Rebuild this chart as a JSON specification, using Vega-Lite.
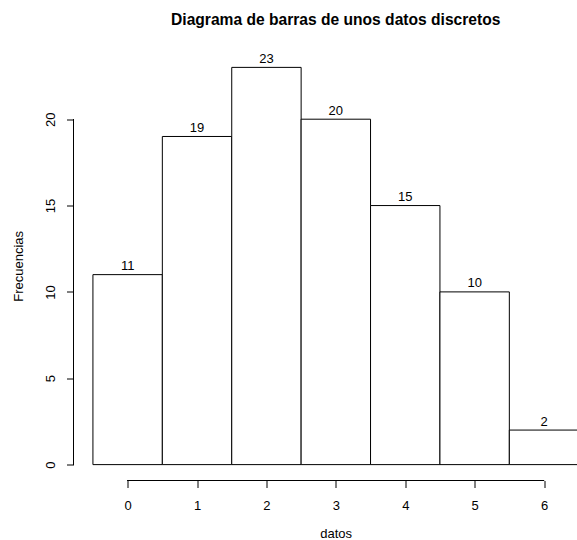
{
  "$schema": "https://vega.github.io/schema/vega-lite/v6.json",
  "width": 484.7,
  "height": 429,
  "autosize": {"type": "none"},
  "padding": {"left": 73.5, "top": 51.5, "right": 18.8, "bottom": 59.5},
  "background": "white",
  "title": {
    "text": "Diagrama de barras de unos datos discretos",
    "font": "Liberation Sans",
    "fontSize": 15.6,
    "fontWeight": "bold",
    "color": "black",
    "anchor": "middle",
    "frame": "group",
    "offset": 11,
    "dx": 19.85,
    "baseline": "alphabetic"
  },
  "config": {
    "view": {"stroke": null},
    "axis": {
      "labelFont": "Liberation Sans",
      "labelFontSize": 13,
      "labelColor": "black",
      "tickColor": "black",
      "tickWidth": 1,
      "tickSize": 7,
      "grid": false,
      "domain": false,
      "titleFont": "Liberation Sans",
      "titleFontSize": 13,
      "titleFontWeight": "normal",
      "titleColor": "black",
      "labelOverlap": false,
      "labelFlush": false
    }
  },
  "data": {
    "values": [
      {"dato": 0, "freq": 11},
      {"dato": 1, "freq": 19},
      {"dato": 2, "freq": 23},
      {"dato": 3, "freq": 20},
      {"dato": 4, "freq": 15},
      {"dato": 5, "freq": 10},
      {"dato": 6, "freq": 2}
    ]
  },
  "layer": [
    {
      "mark": {"type": "bar", "orient": "vertical", "width": 69.4, "fill": "white", "stroke": "black", "strokeWidth": 1},
      "encoding": {
        "x": {
          "field": "dato",
          "type": "quantitative",
          "scale": {"domain": [-0.78, 6.204], "nice": false, "zero": false, "padding": 0},
          "axis": {
            "values": [0, 1, 2, 3, 4, 5, 6],
            "format": "d",
            "labelPadding": 21.5,
            "labelBaseline": "alphabetic",
            "labelAngle": 0,
            "title": "datos",
            "titleX": 262.2,
            "titleY": 57,
            "titleBaseline": "alphabetic",
            "titleAlign": "center",
            "titleAnchor": null
          }
        },
        "y": {
          "field": "freq",
          "type": "quantitative",
          "scale": {"domain": [-0.92, 23.92], "nice": false, "zero": false, "padding": 0},
          "axis": {
            "values": [0, 5, 10, 15, 20],
            "format": "d",
            "labelAngle": 270,
            "labelAlign": "center",
            "labelBaseline": "alphabetic",
            "labelPadding": 11.8,
            "title": "Frecuencias",
            "titleAngle": 270,
            "titleX": -50.6,
            "titleY": 214.4,
            "titleAlign": "center",
            "titleBaseline": "alphabetic"
          }
        },
        "y2": {"datum": 0}
      }
    },
    {
      "mark": {"type": "text", "font": "Liberation Sans", "fontSize": 13, "color": "black", "baseline": "alphabetic", "align": "center", "dy": -4.5},
      "encoding": {
        "x": {"field": "dato", "type": "quantitative"},
        "y": {"field": "freq", "type": "quantitative"},
        "text": {"field": "freq", "type": "quantitative"}
      }
    },
    {
      "mark": {"type": "rule", "color": "black", "strokeWidth": 1},
      "encoding": {
        "x": {"datum": 0, "type": "quantitative"},
        "x2": {"datum": 6},
        "y": {"datum": -0.92, "type": "quantitative"}
      }
    },
    {
      "mark": {"type": "rule", "color": "black", "strokeWidth": 1},
      "encoding": {
        "x": {"datum": -0.78, "type": "quantitative"},
        "y": {"datum": 0, "type": "quantitative"},
        "y2": {"datum": 20}
      }
    }
  ]
}
